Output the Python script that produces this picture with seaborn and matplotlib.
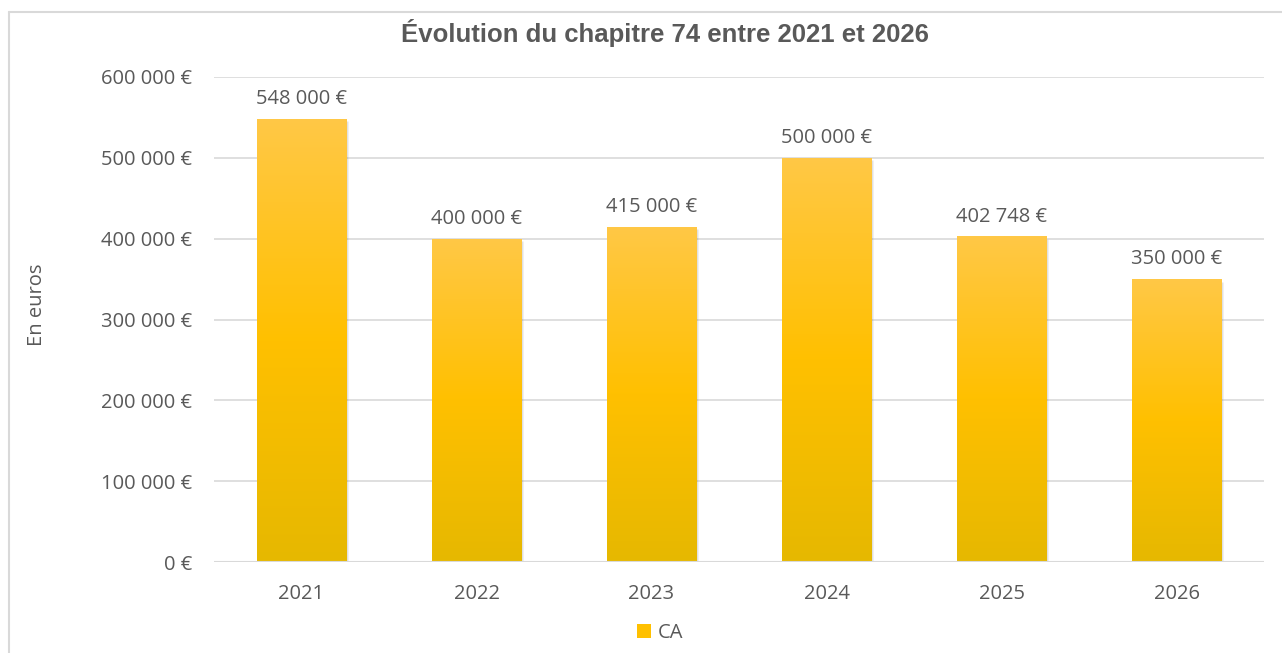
import seaborn as sns
import numpy as np
import pandas as pd
import matplotlib.pyplot as plt
from matplotlib.colors import LinearSegmentedColormap
from matplotlib.patches import Patch
from matplotlib.lines import Line2D

years = ["2021", "2022", "2023", "2024", "2025", "2026"]
values = [548000, 400000, 415000, 500000, 402748, 350000]
series_name = "CA"
title = "Évolution du chapitre 74 entre 2021 et 2026"
y_label = "En euros"

TEXT = "#595959"
GRID = "#d9d9d9"
FS = 14.5


def fmt_euro(v):
    return f"{int(round(v)):,}".replace(",", " ") + " €"


def plot_chapitre_74():
    sns.set_theme(style="white")
    plt.rcParams["font.family"] = ["Open Sans", "DejaVu Sans"]

    df = pd.DataFrame({"year": years, "value": values})

    fig = plt.figure(figsize=(12.82, 6.53), dpi=100)
    ax = fig.add_axes([214 / 1282, 1 - 562 / 653, 1050 / 1282, 485 / 653])

    sns.barplot(data=df, x="year", y="value", ax=ax, color="#ffc000",
                width=0.51, saturation=1, zorder=3)

    ax.set_ylim(0, 600000)
    ax.set_xlim(-0.5, len(years) - 0.5)
    ax.set_yticks(np.arange(0, 600001, 100000))
    ax.yaxis.set_major_formatter(plt.FuncFormatter(lambda v, p: fmt_euro(v)))
    ax.grid(axis="y", color=GRID, linewidth=1.2, zorder=0)
    for s in ax.spines.values():
        s.set_visible(False)
    ax.axhline(0, color=GRID, linewidth=1.5, zorder=4)
    ax.tick_params(axis="both", length=0, labelsize=FS, colors=TEXT)
    ax.tick_params(axis="x", pad=16)
    ax.tick_params(axis="y", pad=16)
    ax.set_xlabel("")
    ax.set_ylabel("")

    # vertical gradient inside each bar (lighter top, darker bottom)
    cmap = LinearSegmentedColormap.from_list(
        "office_gold", ["#e6b800", "#ffc000", "#ffc846"])
    grad = np.linspace(0, 1, 256).reshape(-1, 1)
    for bar in list(ax.patches):
        x0, w, h = bar.get_x(), bar.get_width(), bar.get_height()
        # soft shadow
        ax.bar(x0 + w / 2 + 0.012, h - 3000, width=w, color="#000000",
               alpha=0.12, zorder=2)
        bar.set_facecolor("none")
        bar.set_edgecolor("none")
        im = ax.imshow(grad, cmap=cmap, aspect="auto", origin="lower",
                       extent=[x0, x0 + w, 0, h], zorder=3)
        im.set_clip_path(bar)
        ax.text(x0 + w / 2, h + 12000, fmt_euro(h), ha="center", va="bottom",
                fontsize=FS, color=TEXT, zorder=5)
    ax.set_xlim(-0.5, len(years) - 0.5)
    ax.set_ylim(0, 600000)

    fig.text(37 / 1282, 1 - 305 / 653, y_label, rotation=90, ha="center",
             va="center", fontsize=FS, color=TEXT)

    fig.text(665 / 1282, 1 - 33 / 653, title, ha="center", va="center",
             fontsize=18.5, fontweight="bold", color=TEXT,
             family=["Liberation Sans", "DejaVu Sans"])

    handle = Patch(facecolor="#ffc000", edgecolor="none")
    fig.legend([handle], [series_name], loc="center", frameon=False,
               bbox_to_anchor=(660 / 1282, 1 - 633 / 653), fontsize=FS,
               labelcolor=TEXT, handlelength=0.7, handleheight=0.7,
               handletextpad=0.3)

    # chart area border (top and left visible)
    fig.add_artist(Line2D([9 / 1282, 1], [1 - 12 / 653, 1 - 12 / 653],
                          transform=fig.transFigure, color=GRID, linewidth=1.5))
    fig.add_artist(Line2D([9 / 1282, 9 / 1282], [0, 1 - 12 / 653],
                          transform=fig.transFigure, color=GRID, linewidth=1.5))

    fig.savefig("out.png", dpi=100, facecolor="white")


if __name__ == "__main__":
    plot_chapitre_74()
